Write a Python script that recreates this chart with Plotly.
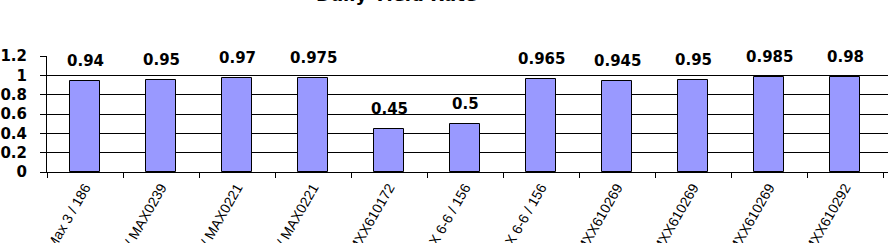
import plotly.graph_objects as go

categories = [
    "Line 1 / Max 3 / 186",
    "Line 2 / MAX0239",
    "Line 3 / MAX0221",
    "Line 4 / MAX0221",
    "Line 5 / MMXX610172",
    "Line 6 / MAX 6-6 / 156",
    "Line 7 / MAX 6-6 / 156",
    "Line 8 / MMXX610269",
    "Line 9 / MMXX610269",
    "Line 10 / MMXX610269",
    "Line 11 / MMXX610292",
]
values = [0.94, 0.95, 0.97, 0.975, 0.45, 0.5, 0.965, 0.945, 0.95, 0.985, 0.98]
value_labels = ["0.94", "0.95", "0.97", "0.975", "0.45", "0.5", "0.965", "0.945", "0.95", "0.985", "0.98"]
y_ticks = [0, 0.2, 0.4, 0.6, 0.8, 1, 1.2]
y_tick_text = ["0", "0.2", "0.4", "0.6", "0.8", "1", "1.2"]
title_text = "Daily Yield Rate"

fig = go.Figure()
fig.add_trace(go.Bar(
    x=categories, y=values,
    marker=dict(color="#9999FF", line=dict(color="black", width=1)),
    width=0.39,
))

for c, v, t in zip(categories, values, value_labels):
    fig.add_annotation(x=c, y=v, text=t, showarrow=False, yshift=20,
                       yanchor="middle", xanchor="center",
                       font=dict(family="DejaVu Sans", size=15, color="black", weight="bold"))

fig.add_annotation(xref="paper", yref="paper", x=0.415, y=1.533, text=title_text,
                   showarrow=False, xanchor="center", yanchor="middle",
                   font=dict(family="DejaVu Sans", size=18, color="black", weight="bold"))

fig.update_layout(
    width=888, height=243,
    margin=dict(l=47, r=0, t=56, b=71),
    paper_bgcolor="white", plot_bgcolor="white",
    showlegend=False,
    bargap=0,
)
fig.update_xaxes(
    type="category",
    range=[-0.5, 10.5 + 5 / 76],
    showline=True, linecolor="black", linewidth=1,
    ticks="outside", ticklen=5, tickcolor="black", tickson="boundaries",
    tickangle=-60,
    ticklabelstandoff=1,
    tickfont=dict(family="Liberation Sans", size=14, color="black"),
    showgrid=False, automargin=False,
)
fig.update_yaxes(
    range=[0, 1.2],
    tickvals=y_ticks, ticktext=y_tick_text,
    showline=True, linecolor="black", linewidth=1,
    ticks="outside", ticklen=6, tickcolor="black",
    ticklabelstandoff=10,
    showgrid=True, gridcolor="black", gridwidth=1,
    zeroline=False,
    tickfont=dict(family="DejaVu Sans", size=15, color="black", weight="bold"),
    automargin=False,
)

fig.write_html("out.html")
